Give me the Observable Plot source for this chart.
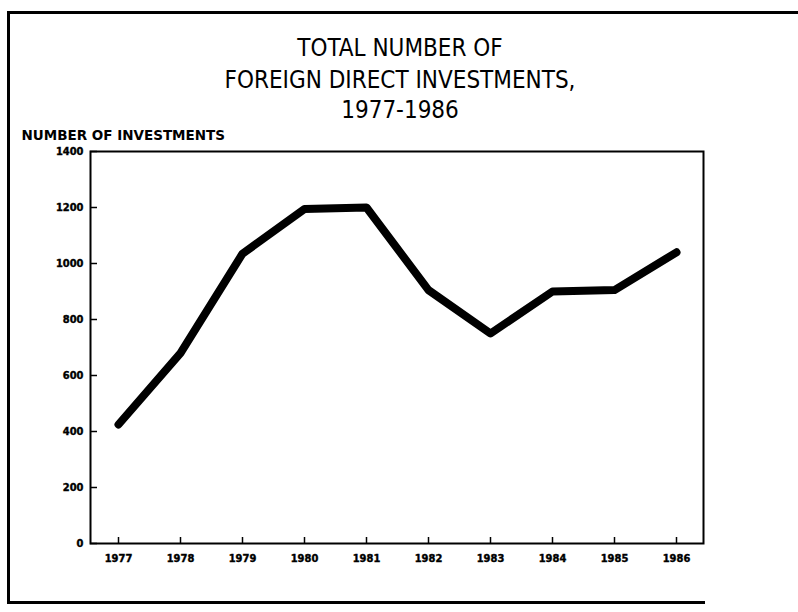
<!DOCTYPE html>
<html>
<head>
<meta charset="utf-8">
<script src="https://cdn.jsdelivr.net/npm/d3@7"></script>
<script src="https://cdn.jsdelivr.net/npm/@observablehq/plot@0.6"></script>
<style>
  html, body { margin: 0; padding: 0; background: #fff; overflow: hidden; }
  #wrap { position: relative; width: 798px; height: 612px; overflow: hidden; }
  #chart { position: absolute; left: 0; top: 0; }
  .rule { position: absolute; background: #000; pointer-events: none; }
  #topRule { left: 7px; top: 11px; width: 791px; height: 2.5px; }
  #leftRuleA { left: 7px; top: 11px; width: 2.5px; height: 300px; }
  #leftRuleB { left: 7px; top: 311px; width: 2.5px; height: 292px; }
  #bottomRule { left: 7px; top: 601px; width: 698px; height: 2.5px; }
  svg g[aria-label="y-axis tick label"] text, svg g[aria-label="x-axis tick label"] text { stroke: #000; stroke-width: 0.4px; }
</style>
</head>
<body>
<div id="wrap">
  <div id="chart"></div>
  <div class="rule" id="topRule"></div>
  <div class="rule" id="leftRuleA"></div>
  <div class="rule" id="leftRuleB"></div>
  <div class="rule" id="bottomRule"></div>
</div>
<script>
const years = ["1977", "1978", "1979", "1980", "1981", "1982", "1983", "1984", "1985", "1986"];
const investments = [425, 680, 1035, 1195, 1200, 905, 750, 900, 905, 1040];
const yTicks = [0, 200, 400, 600, 800, 1000, 1200, 1400];
const titleLines = ["TOTAL NUMBER OF", "FOREIGN DIRECT INVESTMENTS,", "1977-1986"];
const yLabel = "NUMBER OF INVESTMENTS";

const data = years.map((y, i) => ({year: y, value: investments[i]}));
const titleFont = "'DejaVu Sans Condensed', 'Liberation Sans Narrow', 'DejaVu Sans', sans-serif";
const tickFont = "'DejaVu Sans Condensed', 'DejaVu Sans', sans-serif";

const titleMark = (line, dy) => Plot.text([line], {
  frameAnchor: "top", text: d => d, dx: 3, dy, fontSize: 24, fontFamily: titleFont, fill: "#000"
});

const chart = Plot.plot({
  width: 798,
  height: 612,
  marginLeft: 90,
  marginRight: 95,
  marginTop: 151,
  marginBottom: 69,
  style: {background: "#fff", color: "#000", fontFamily: tickFont, maxWidth: "none"},
  x: {type: "point", domain: years, padding: 0.4, label: null},
  y: {domain: [0, 1400], label: null},
  marks: [
    Plot.frame({stroke: "#000", strokeWidth: 2}),
    Plot.axisY({ticks: yTicks, tickSize: -7, tickPadding: 14, strokeWidth: 1.5, fontSize: 11, fontWeight: "bold", label: null, tickFormat: d => String(d)}),
    Plot.axisX({ticks: years, tickSize: -6, tickPadding: 17, strokeWidth: 1.5, fontSize: 11, fontWeight: "bold", label: null}),
    Plot.line(data, {x: "year", y: "value", stroke: "#000", strokeWidth: 8, strokeLinejoin: "round", strokeLinecap: "round"}),
    Plot.text([yLabel], {frameAnchor: "top-left", text: d => d, dx: -69, dy: -21, textAnchor: "start", fontSize: 13.5, fontWeight: "bold", fontFamily: "'DejaVu Sans', sans-serif", fill: "#000"}),
    titleMark(titleLines[0], -113),
    titleMark(titleLines[1], -81),
    titleMark(titleLines[2], -51)
  ]
});
document.getElementById("chart").appendChild(chart);
</script>
</body>
</html>
